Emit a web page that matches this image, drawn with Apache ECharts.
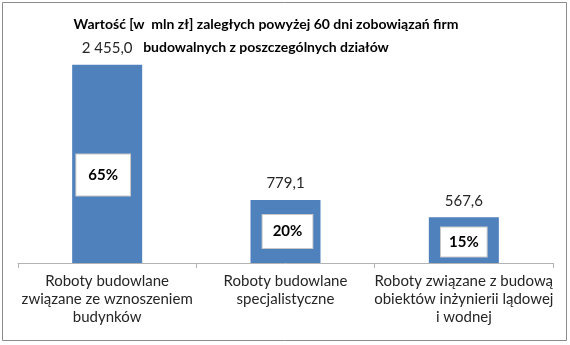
<!DOCTYPE html>
<html>
<head>
<meta charset="utf-8">
<script src="https://cdn.jsdelivr.net/npm/echarts@6/dist/echarts.min.js"></script>
<style>
  html, body { margin: 0; padding: 0; background: #fff; }
  #chart { width: 570px; height: 345px; }
</style>
</head>
<body>
<div id="chart"></div>
<script>
// Overdue (>60 days) liabilities of construction firms by division, PLN million
const categories = [
  'Roboty budowlane\nzwiązane ze wznoszeniem\nbudynków',
  'Roboty budowlane\nspecjalistyczne',
  'Roboty związane z budową\nobiektów inżynierii lądowej\ni wodnej'
];
const values = [2455.0, 779.1, 567.6];
const shares = ['65%', '20%', '15%'];
const titleText = 'Wartość [w  mln zł] zaległych powyżej 60 dni zobowiązań firm\nbudowalnych z poszczególnych działów';

const FONT = 'Lato';
// box padding and nudge for the share captions, one per bar
const sharePadding = [[13, 12], [9, 10], [7, 8]];
const shareOffset = [[-4, 11], [2, 0], [0, 2]];

const fmt = v => {
  const [i, d] = v.toFixed(1).split('.');
  return i.replace(/\B(?=(\d{3})+(?!\d))/g, ' ') + ',' + d;
};

const chart = echarts.init(document.getElementById('chart'));
chart.setOption({
  backgroundColor: '#fff',
  animation: false,
  title: {
    text: titleText,
    left: 261,
    top: 8,
    textAlign: 'center',
    textStyle: {
      fontFamily: FONT,
      fontSize: 14,
      fontWeight: 'bold',
      color: '#000',
      lineHeight: 23
    }
  },
  graphic: [{
    type: 'rect',
    shape: { x: 2.5, y: 2.5, width: 564, height: 338 },
    style: { fill: 'none', stroke: '#8c8c8c', lineWidth: 1 },
    silent: true
  }],
  grid: { left: 18, right: 17, top: 45, bottom: 82 },
  xAxis: {
    type: 'category',
    data: categories,
    axisLine: { lineStyle: { color: '#b3b3b3', width: 1 } },
    axisTick: { show: true, length: 5, lineStyle: { color: '#b3b3b3' } },
    axisLabel: {
      interval: 0,
      margin: 9,
      fontFamily: FONT,
      fontSize: 15,
      lineHeight: 18,
      color: '#262626'
    }
  },
  yAxis: {
    type: 'value',
    min: 0,
    max: 2700,
    show: false,
    splitLine: { show: false }
  },
  series: [
    {
      type: 'bar',
      data: values,
      barWidth: 70,
      itemStyle: { color: '#4f81bd' },
      label: {
        show: true,
        position: 'top',
        distance: 9,
        formatter: p => fmt(p.value),
        fontFamily: FONT,
        fontSize: 15,
        color: '#262626'
      }
    },
    {
      // share captions drawn as white boxes inside each bar
      type: 'bar',
      data: values.map((v, i) => ({
        value: v,
        label: { padding: sharePadding[i], offset: shareOffset[i] }
      })),
      barWidth: 70,
      barGap: '-100%',
      itemStyle: { color: 'rgba(0,0,0,0)' },
      silent: true,
      label: {
        show: true,
        position: 'inside',
        formatter: p => shares[p.dataIndex],
        fontFamily: FONT,
        fontSize: 15,
        fontWeight: 'bold',
        color: '#000',
        backgroundColor: '#fff',
        borderColor: '#c8c8c8',
        borderWidth: 1
      }
    }
  ]
});
</script>
</body>
</html>
